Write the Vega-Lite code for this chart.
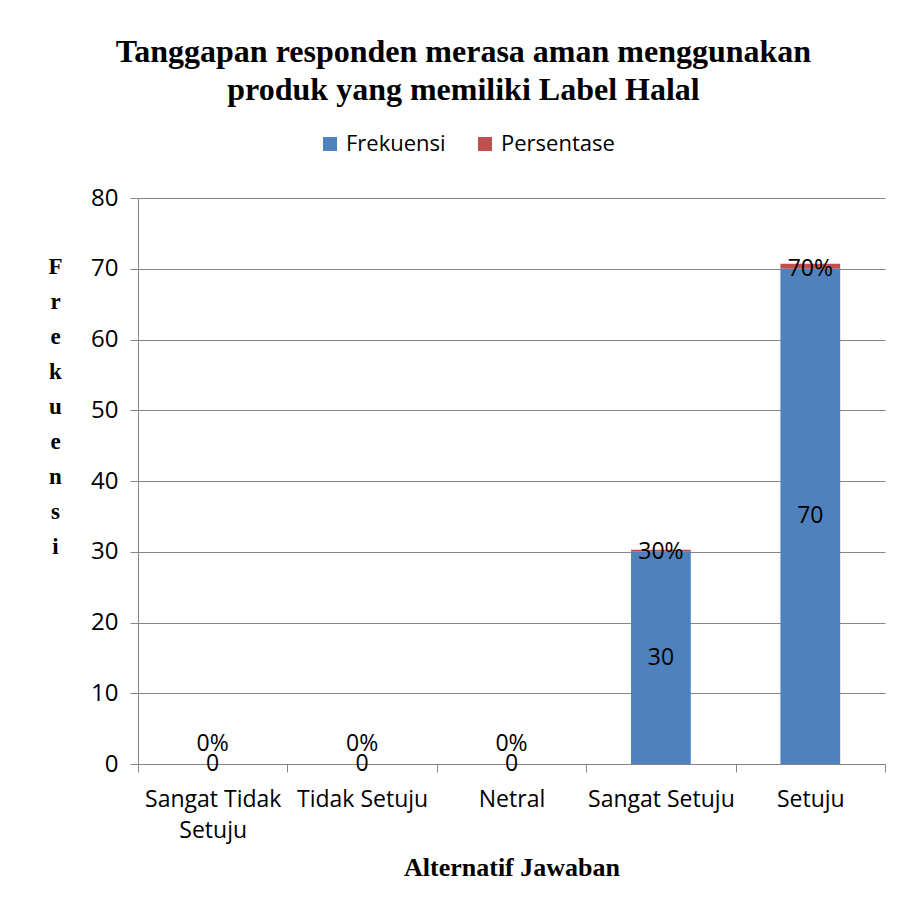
{
  "$schema": "https://vega.github.io/schema/vega-lite/v6.json",
  "width": 747,
  "height": 566,
  "autosize": "none",
  "padding": {"left": 138, "top": 198, "right": 17, "bottom": 146},
  "background": "white",
  "title": {
    "text": ["Tanggapan responden merasa aman menggunakan", "produk yang memiliki Label Halal"],
    "font": "Liberation Serif",
    "fontSize": 32,
    "fontWeight": "bold",
    "lineHeight": 38,
    "color": "#000000",
    "anchor": "middle",
    "frame": "group",
    "dx": -48,
    "offset": 26
  },
  "data": {
    "values": [
      {"Alternatif": "Sangat Tidak Setuju", "Seri": "Frekuensi", "Nilai": 0},
      {"Alternatif": "Sangat Tidak Setuju", "Seri": "Persentase", "Nilai": 0},
      {"Alternatif": "Tidak Setuju", "Seri": "Frekuensi", "Nilai": 0},
      {"Alternatif": "Tidak Setuju", "Seri": "Persentase", "Nilai": 0},
      {"Alternatif": "Netral", "Seri": "Frekuensi", "Nilai": 0},
      {"Alternatif": "Netral", "Seri": "Persentase", "Nilai": 0},
      {"Alternatif": "Sangat Setuju", "Seri": "Frekuensi", "Nilai": 30},
      {"Alternatif": "Sangat Setuju", "Seri": "Persentase", "Nilai": 0.3},
      {"Alternatif": "Setuju", "Seri": "Frekuensi", "Nilai": 70},
      {"Alternatif": "Setuju", "Seri": "Persentase", "Nilai": 0.7}
    ]
  },
  "transform": [
    {"stack": "Nilai", "groupby": ["Alternatif"], "sort": [{"field": "Seri", "order": "ascending"}], "as": ["y0", "y1"]}
  ],
  "encoding": {
    "x": {
      "field": "Alternatif",
      "type": "nominal",
      "sort": ["Sangat Tidak Setuju", "Tidak Setuju", "Netral", "Sangat Setuju", "Setuju"],
      "scale": {"paddingInner": 0, "paddingOuter": 0},
      "axis": {
        "title": "Alternatif Jawaban",
        "titleFontSize": 26,
        "labelAngle": 0,
        "tickBand": "extent",
        "labelExpr": "datum.label == 'Sangat Tidak Setuju' ? ['Sangat Tidak', 'Setuju'] : datum.label",
        "titlePadding": 12
      }
    }
  },
  "layer": [
    {
      "mark": {"type": "bar", "width": {"band": 0.4}},
      "encoding": {
        "y": {
          "field": "y0",
          "type": "quantitative",
          "scale": {"domain": [0, 80], "nice": false},
          "axis": {
            "values": [0, 10, 20, 30, 40, 50, 60, 70, 80],
            "title": ["F", "r", "e", "k", "u", "e", "n", "s", "i"],
            "titleAngle": 0,
            "titleX": -83,
            "titleY": 68,
            "titleAlign": "center",
            "titleBaseline": "middle",
            "titleLineHeight": 35,
            "titleFontSize": 23,
            "grid": true
          }
        },
        "y2": {"field": "y1"},
        "color": {
          "field": "Seri",
          "type": "nominal",
          "scale": {"domain": ["Frekuensi", "Persentase"], "range": ["#4F81BD", "#C0504D"]},
          "legend": {
            "title": null,
            "orient": "none",
            "direction": "horizontal",
            "legendX": 181,
            "legendY": -65,
            "symbolType": "square",
            "symbolSize": 196,
            "symbolStrokeWidth": 0,
            "labelFont": "Open Sans",
            "labelFontSize": 22,
            "labelColor": "#000000",
            "columnPadding": 28,
            "labelOffset": 5
          }
        }
      }
    },
    {
      "transform": [
        {"filter": "datum.Seri == 'Frekuensi'"},
        {"fold": ["y0", "y1"], "as": ["ujung", "posisi"]},
        {"aggregate": [{"op": "mean", "field": "posisi", "as": "tengah"}, {"op": "max", "field": "Nilai", "as": "Nilai"}], "groupby": ["Alternatif"]}
      ],
      "mark": {"type": "text", "font": "Open Sans", "fontSize": 23, "color": "#000000"},
      "encoding": {
        "y": {"field": "tengah", "type": "quantitative"},
        "text": {"field": "Nilai", "type": "quantitative", "format": "d"}
      }
    },
    {
      "transform": [{"filter": "datum.Seri == 'Persentase' && datum.Nilai > 0"}],
      "mark": {"type": "text", "font": "Open Sans", "fontSize": 23, "color": "#000000"},
      "encoding": {
        "y": {"field": "y0", "type": "quantitative"},
        "text": {"field": "Nilai", "type": "quantitative", "format": ".0%"}
      }
    },
    {
      "transform": [{"filter": "datum.Seri == 'Persentase' && datum.Nilai == 0"}],
      "mark": {"type": "text", "font": "Open Sans", "fontSize": 23, "color": "#000000", "dy": -20},
      "encoding": {
        "y": {"field": "y0", "type": "quantitative"},
        "text": {"field": "Nilai", "type": "quantitative", "format": ".0%"}
      }
    }
  ],
  "config": {
    "view": {"stroke": null},
    "axis": {
      "labelFont": "Open Sans",
      "labelFontSize": 23,
      "labelColor": "#000000",
      "titleFont": "Liberation Serif",
      "titleFontWeight": "bold",
      "titleFontSize": 22,
      "titleColor": "#000000",
      "domainColor": "#868686",
      "tickColor": "#868686",
      "gridColor": "#868686",
      "tickSize": 8,
      "labelLineHeight": 31
    },
    "axisY": {"labelPadding": 12, "labelFontSize": 24},
    "axisX": {"grid": false, "labelPadding": 16}
  }
}
